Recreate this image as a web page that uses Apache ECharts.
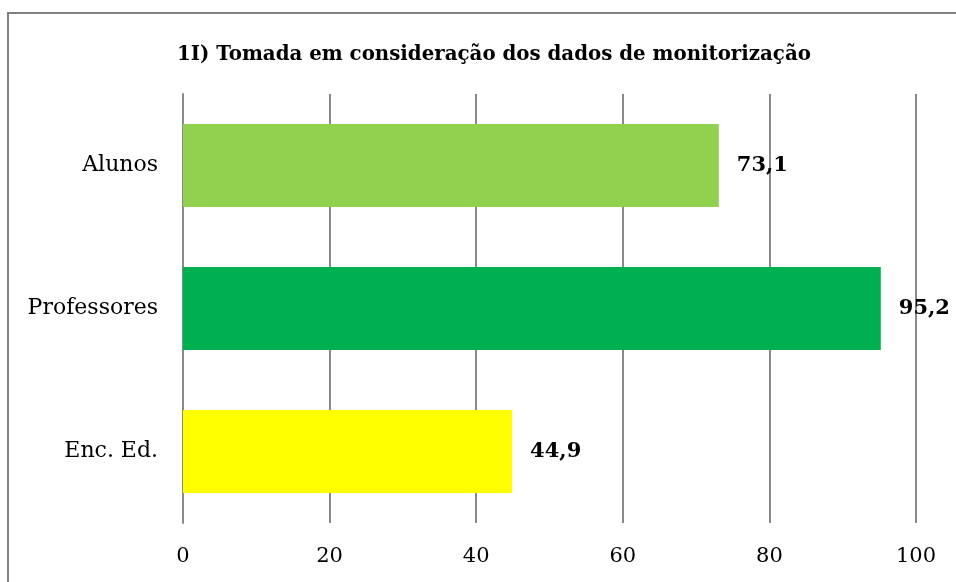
<!DOCTYPE html>
<html>
<head>
<meta charset="utf-8">
<script src="https://cdn.jsdelivr.net/npm/echarts@6/dist/echarts.min.js"></script>
<style>
  html, body { margin: 0; padding: 0; background: #ffffff; }
  #chart { width: 956px; height: 582px; }
</style>
</head>
<body>
<div id="chart"></div>
<script>
// Respondent groups and their percentages
const categories = ['Alunos', 'Professores', 'Enc. Ed.'];
const values = [73.1, 95.2, 44.9];
const barColors = ['#92D050', '#00B050', '#FFFF00'];
const xTicks = [0, 20, 40, 60, 80, 100];

const FONT = '"DejaVu Serif", serif';
const GRID_GREY = '#8a8a8a';

const chart = echarts.init(document.getElementById('chart'), null, { renderer: 'canvas' });

chart.setOption({
  backgroundColor: '#ffffff',
  animation: false,
  title: {
    text: '1I) Tomada em consideração dos dados de monitorização',
    left: 172,
    top: 40,
    textStyle: { fontFamily: FONT, fontWeight: 'bold', fontSize: 19.8, color: '#000' }
  },
  graphic: [{
    type: 'rect',
    shape: { x: 8, y: 13, width: 1000, height: 1000 },
    style: { fill: 'none', stroke: '#808080', lineWidth: 2 },
    silent: true
  }],
  grid: { left: 183, right: 40, top: 94, bottom: 59 },
  xAxis: {
    type: 'value',
    min: xTicks[0],
    max: xTicks[xTicks.length - 1],
    interval: xTicks[1] - xTicks[0],
    axisLine: { show: false },
    axisTick: { show: false },
    splitLine: { show: true, lineStyle: { color: GRID_GREY, width: 2 } },
    axisLabel: { fontFamily: FONT, fontSize: 21, color: '#000', margin: 23 }
  },
  yAxis: {
    type: 'category',
    data: categories,
    inverse: true,
    axisLine: { show: true, lineStyle: { color: GRID_GREY, width: 2 } },
    axisTick: { show: false },
    axisLabel: { fontFamily: FONT, fontSize: 22, color: '#000', margin: 25 }
  },
  series: [{
    type: 'bar',
    data: values.map((v, i) => ({ value: v, itemStyle: { color: barColors[i] } })),
    barCategoryGap: '42%',
    label: {
      show: true,
      position: 'right',
      distance: 18,
      fontFamily: FONT,
      fontWeight: 'bold',
      fontSize: 21,
      color: '#000',
      formatter: p => String(p.value).replace('.', ',')
    }
  }]
});
</script>
</body>
</html>
